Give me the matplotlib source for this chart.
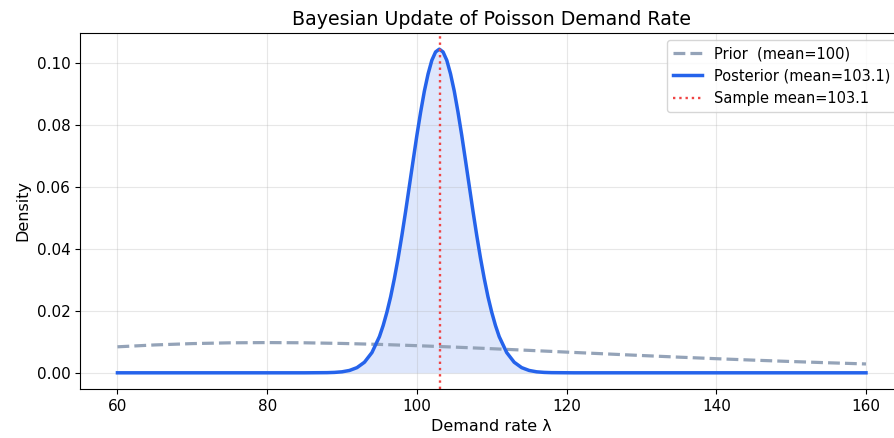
import matplotlib
matplotlib.use("Agg")
import matplotlib.pyplot as plt

# prior density, read every 5 units
prior_x = [60, 65, 70, 75, 80, 85, 90, 95, 100, 105, 110, 115, 120,
           125, 130, 135, 140, 145, 150, 155, 160]
prior_y = [0.00840, 0.00901, 0.00944, 0.00969, 0.00977, 0.00970, 0.00949,
           0.00918, 0.00877, 0.00831, 0.00779, 0.00725, 0.00669, 0.00614,
           0.00559, 0.00506, 0.00456, 0.00409, 0.00365, 0.00324, 0.00286]

# posterior density, read densely around the peak
post_x = [60, 80, 85, 88, 89, 90, 91, 92, 93, 94, 95, 95.5, 96, 96.5, 97,
          97.5, 98, 98.5, 99, 99.5, 100, 100.5, 101, 101.5, 102, 102.5, 103,
          103.5, 104, 104.5, 105, 105.5, 106, 106.5, 107, 107.5, 108, 108.5,
          109, 109.5, 110, 110.5, 111, 112, 113, 114, 115, 116, 117, 118,
          121, 130, 160]
post_y = [0.0, 0.0, 0.0, 0.00005, 0.00013, 0.00032, 0.00076, 0.00167,
          0.00342, 0.00655, 0.0117, 0.0153, 0.0196, 0.0246, 0.0305, 0.0371,
          0.0444, 0.0522, 0.0604, 0.0686, 0.0767, 0.0842, 0.0910, 0.0966,
          0.1010, 0.1037, 0.1046, 0.1037, 0.1010, 0.0966, 0.0910, 0.0842,
          0.0767, 0.0686, 0.0604, 0.0522, 0.0444, 0.0371, 0.0305, 0.0246,
          0.0196, 0.0153, 0.0117, 0.00655, 0.00342, 0.00167, 0.00076,
          0.00032, 0.00013, 0.00005, 0.0, 0.0, 0.0]

prior_mean = 100
post_mean = 103.1
sample_mean = 103.1

fig = plt.figure(figsize=(8.95, 4.38), dpi=100)
ax = fig.add_axes([0.0894, 0.1119, 0.92, 0.8128])

ax.plot(prior_x, prior_y, "--", color="#94a3b8", lw=2.3,
        label=f"Prior  (mean={prior_mean})")
ax.plot(post_x, post_y, color="#2563eb", lw=2.5,
        label=f"Posterior (mean={post_mean})")
ax.fill_between(post_x, post_y, color="#2563eb", alpha=0.15, lw=0)
ax.axvline(sample_mean, color="#ef4444", ls=":", lw=1.7,
           label=f"Sample mean={sample_mean}")

ax.set_title("Bayesian Update of Poisson Demand Rate", fontsize=13.7)
ax.set_xlabel("Demand rate λ", fontsize=11.5)
ax.set_ylabel("Density", fontsize=11.5)
ax.tick_params(labelsize=11)
ax.grid(True, alpha=0.3)
ax.legend(loc="upper right", fontsize=10.5)

fig.savefig("out.png", dpi=100)
